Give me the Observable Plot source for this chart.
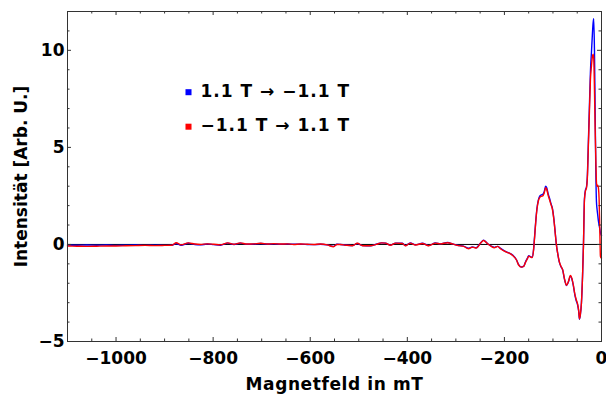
<!DOCTYPE html>
<html>
<head>
<meta charset="utf-8">
<script src="https://cdn.jsdelivr.net/npm/d3@7"></script>
<script src="https://cdn.jsdelivr.net/npm/@observablehq/plot@0.6"></script>
<style>
  html, body { margin: 0; padding: 0; background: #fff; }
</style>
</head>
<body>
<div id="chart"></div>
<script>
// Magnetic field (mT)
const field = [
  -1100, -1080, -1060, -1040, -1020, -1000, -980, -960, -940, -920, -900, -885, -876, -866, -851, -838, -826, -812, -799, -785,
  -770, -757, -744, -730, -716, -702, -688, -675, -661, -647, -634, -620, -606, -593, -579, -565, -552, -545, -538, -527,
  -513, -503, -492, -476, -464, -453, -445, -435, -424, -410, -404, -394, -383, -369, -356, -342, -332, -317, -307, -297,
  -284, -274, -266, -258, -249, -243, -235, -227, -221, -214, -208, -200, -192, -183, -175, -171, -165, -160, -157, -152,
  -150, -146, -143, -140, -138, -135.6, -133, -130, -127, -124, -121, -118, -115, -113, -110, -107, -104, -101, -98, -95,
  -93, -90, -87, -84, -80, -76, -72, -68, -64, -61, -58, -55, -52, -49.5, -47, -45.4, -43.5, -41.3, -39, -37.2,
  -35.1, -33.1, -31, -29, -26.9, -24.8, -22.8, -20.7, -18.6, -17.3, -16, -14.5, -13.1, -11.8, -10.4, -9.1, -7.7, -6.3, -4.9, -3.5,
  -2.2, -1, 0
];
// Sweep 1.1 T -> -1.1 T (blue)
const sweepDown = [
  -0.03, -0.04, -0.03, -0.04, -0.03, -0.05, -0.04, -0.03, -0.05, -0.04, -0.05, -0.04, 0.05, -0.04, 0.06, 0.0, -0.02, 0.02, -0.01, -0.04,
  0.07, 0.0, 0.07, 0.01, 0.02, 0.05, 0.02, 0.03, 0.01, 0.02, 0.01, 0.01, 0.0, -0.01, 0.01, -0.02, -0.1, 0.01, 0.0, -0.03,
  -0.06, 0.05, -0.06, -0.07, 0.01, 0.08, 0.07, -0.03, 0.07, 0.06, -0.06, 0.08, -0.02, 0.06, -0.06, 0.08, 0.03, 0.1, 0.03, -0.04,
  -0.09, -0.2, -0.13, -0.17, 0.08, 0.22, 0.05, -0.09, -0.15, -0.1, -0.2, -0.33, -0.42, -0.55, -0.8, -1.03, -1.16, -1.12, -0.93, -0.68,
  -0.58, -0.63, -0.66, -0.28, 0.35, 1.15, 1.85, 2.3, 2.5, 2.55, 2.58, 2.72, 3.0, 2.93, 2.62, 2.38, 2.1, 1.85, 1.3, 0.52,
  0.0, -0.5, -0.9, -1.12, -1.32, -1.82, -2.12, -1.92, -1.62, -1.78, -2.12, -2.58, -2.9, -3.08, -3.45, -3.85, -3.62, -3.0, -1.6, -0.05,
  2.35, 2.8, 2.95, 3.6, 5.4, 7.2, 8.9, 9.9, 10.9, 11.4, 11.63, 10.0, 6.9, 4.0, 2.2, 1.8, 1.5, 1.2, 1.0, 0.8,
  0.6, 0.5, 0.45
];
// Sweep -1.1 T -> 1.1 T (red)
const sweepUp = [
  -0.08, -0.09, -0.1, -0.09, -0.08, -0.08, -0.07, -0.06, -0.05, -0.06, -0.05, -0.04, 0.09, -0.02, 0.08, 0.02, 0.0, 0.03, 0.01, -0.02,
  0.08, 0.01, 0.08, 0.02, 0.03, 0.06, 0.02, 0.04, 0.02, 0.03, 0.0, 0.02, 0.01, 0.0, 0.02, -0.02, -0.12, 0.0, 0.0, -0.04,
  -0.07, 0.06, -0.07, -0.07, 0.0, 0.08, 0.07, -0.04, 0.07, 0.05, -0.07, 0.07, -0.03, 0.05, -0.07, 0.07, 0.03, 0.09, 0.03, -0.05,
  -0.1, -0.22, -0.14, -0.19, 0.07, 0.2, 0.04, -0.1, -0.17, -0.1, -0.22, -0.35, -0.43, -0.57, -0.8, -1.05, -1.17, -1.12, -0.95, -0.7,
  -0.6, -0.65, -0.68, -0.3, 0.3, 1.1, 1.8, 2.25, 2.42, 2.48, 2.5, 2.65, 2.92, 2.85, 2.55, 2.3, 2.05, 1.8, 1.25, 0.5,
  0.0, -0.5, -0.88, -1.1, -1.3, -1.8, -2.1, -1.9, -1.6, -1.75, -2.1, -2.55, -2.85, -3.04, -3.4, -3.83, -3.6, -3.0, -1.6, -0.1,
  2.3, 2.75, 2.9, 3.5, 5.2, 6.9, 8.5, 9.2, 9.7, 9.8, 9.6, 8.0, 6.0, 4.5, 3.2, 3.0, 3.05, 2.9, 2.3, 0.8,
  -0.62, -0.7, -0.7
];

const legendLabels = ["1.1 T \u2192 \u22121.1 T", "\u22121.1 T \u2192 1.1 T"];
const legendColors = ["#0000ff", "#ff0000"];

const xMajor = [-1000, -800, -600, -400, -200, 0];
const xMinor = [-1100, -1050, -950, -900, -850, -750, -700, -650, -550, -500, -450, -350, -300, -250, -150, -100, -50];
const yMajor = [-5, 0, 5, 10];
const yMinor = [-4, -3, -2, -1, 1, 2, 3, 4, 6, 7, 8, 9, 11];

const xTitle = "Magnetfeld in mT";
const yTitle = "Intensität [Arb. U.]";

const rows = field.map((f, i) => ({f, down: sweepDown[i], up: sweepUp[i]}));

const W = 606, H = 396;
const mL = 67, mR = 5, mT = 11, mB = 55;
const fw = W - mL - mR, fh = H - mT - mB;
const frameColor = "#333";

const marks = [
  Plot.ruleY([0], {stroke: "#000", strokeWidth: 1}),
  Plot.line(rows, {x: "f", y: "down", stroke: legendColors[0], strokeWidth: 1.4, curve: "monotone-x"}),
  Plot.line(rows, {x: "f", y: "up", stroke: legendColors[1], strokeWidth: 1.4, curve: "monotone-x"}),
  Plot.frame({stroke: frameColor}),
  // inward ticks on all four sides
  Plot.tickX(xMajor, {x: d => d, insetTop: fh - 4, stroke: frameColor}),
  Plot.tickX(xMinor, {x: d => d, insetTop: fh - 2.5, stroke: frameColor}),
  Plot.tickX(xMajor, {x: d => d, insetBottom: fh - 4, stroke: frameColor}),
  Plot.tickX(xMinor, {x: d => d, insetBottom: fh - 2.5, stroke: frameColor}),
  Plot.tickY(yMajor, {y: d => d, insetRight: fw - 4, stroke: frameColor}),
  Plot.tickY(yMinor, {y: d => d, insetRight: fw - 2.5, stroke: frameColor}),
  Plot.tickY(yMajor, {y: d => d, insetLeft: fw - 4, stroke: frameColor}),
  Plot.tickY(yMinor, {y: d => d, insetLeft: fw - 2.5, stroke: frameColor}),
  Plot.axisX({ticks: xMajor, tickSize: 0, tickPadding: 10, tickFormat: d3.format("d"), label: null}),
  Plot.axisY({ticks: yMajor, tickSize: 0, tickPadding: 3, tickFormat: d3.format("d"), label: null}),
  Plot.text([xTitle], {text: d => d, frameAnchor: "bottom", dy: 43, textAnchor: "middle", lineAnchor: "middle", fill: "#000"}),
  Plot.text([yTitle], {text: d => d, frameAnchor: "left", rotate: -90, dx: -46, textAnchor: "middle", lineAnchor: "middle", fill: "#000"})
];

legendLabels.forEach((lab, i) => {
  marks.push(Plot.dot([lab], {frameAnchor: "top-left", dx: 121, dy: 80.7 + i * 34.5, symbol: "square", r: 3.4, fill: legendColors[i], stroke: null}));
  marks.push(Plot.text([lab], {text: d => d, frameAnchor: "top-left", dx: 133, dy: 79.8 + i * 34.5, textAnchor: "start", lineAnchor: "middle", fill: "#000"}));
});

const chart = Plot.plot({
  width: W,
  height: H,
  marginLeft: mL,
  marginRight: mR,
  marginTop: mT,
  marginBottom: mB,
  x: {domain: [-1100, 0]},
  y: {domain: [-5, 12]},
  style: {fontFamily: "'DejaVu Sans', sans-serif", fontSize: "17px", fontWeight: "bold", color: "#000", background: "#fff"},
  marks
});
// widen legend and x-title letter spacing to match the reference typeface
d3.select(chart).selectAll("text").each(function() {
  const t = this.textContent;
  if (legendLabels.includes(t)) this.setAttribute("letter-spacing", "1");
  else if (t === xTitle) this.setAttribute("letter-spacing", "0.6");
});
document.getElementById("chart").appendChild(chart);
</script>
</body>
</html>
